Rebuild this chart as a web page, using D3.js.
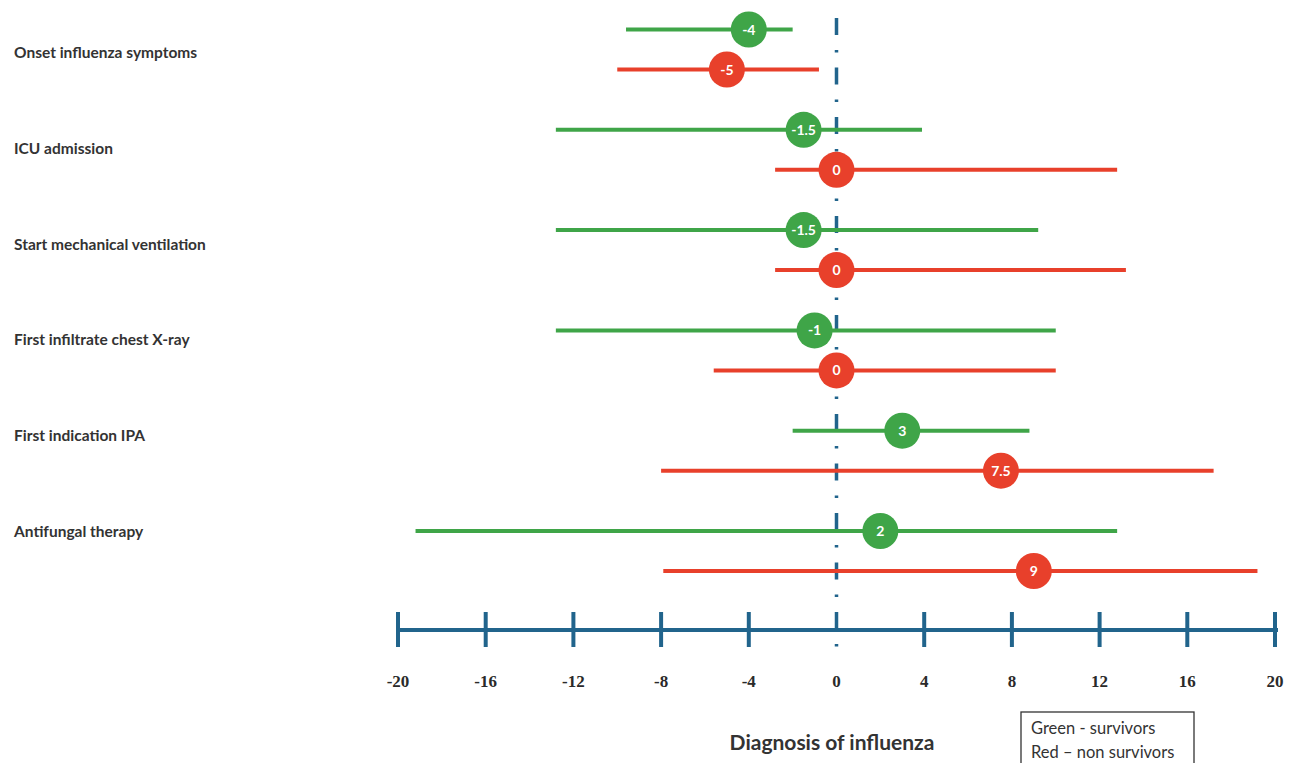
<!DOCTYPE html>
<html>
<head>
<meta charset="utf-8">
<script src="https://cdn.jsdelivr.net/npm/d3@7"></script>
<style>
  html, body { margin: 0; padding: 0; background: #ffffff; }
  svg { display: block; }
</style>
</head>
<body>
<svg id="chart" width="1294" height="763"></svg>
<script>
// ---- Data ----
const categories = [
  "Onset influenza symptoms",
  "ICU admission",
  "Start mechanical ventilation",
  "First infiltrate chest X-ray",
  "First indication IPA",
  "Antifungal therapy"
];
// survivors (green): median, low, high
const survMedian = [-4, -1.5, -1.5, -1, 3, 2];
const survLow    = [-9.6, -12.8, -12.8, -12.8, -2, -19.2];
const survHigh   = [-2, 3.9, 9.2, 10, 8.8, 12.8];
// non survivors (red)
const nonMedian  = [-5, 0, 0, 0, 7.5, 9];
const nonLow     = [-10, -2.8, -2.8, -5.6, -8, -7.9];
const nonHigh    = [-0.8, 12.8, 13.2, 10, 17.2, 19.2];

const xTicks = [-20, -16, -12, -8, -4, 0, 4, 8, 12, 16, 20];
const axisTitle = "Diagnosis of influenza";
const legendLines = ["Green - survivors", "Red \u2013 non survivors"];

// ---- Styles ----
const GREEN = "#3fa548";
const RED = "#e8402b";
const BLUE = "#21648c";

const svg = d3.select("#chart");

const x = d3.scaleLinear().domain([-20, 20]).range([398, 1275]);
const yGroup = d3.scalePoint().domain(categories).range([49.5, 551]);
const yLabel = d3.scalePoint().domain(categories).range([53, 532]);
const offset = 20;

// dashed zero line
svg.append("line")
  .attr("x1", x(0)).attr("x2", x(0))
  .attr("y1", 18).attr("y2", 650)
  .attr("stroke", BLUE)
  .attr("stroke-width", 3.5)
  .attr("stroke-dasharray", "17,15,2.5,15");

// axis line
const axisY = 630;
svg.append("line")
  .attr("x1", x(-20) - 1).attr("x2", x(20) + 3)
  .attr("y1", axisY).attr("y2", axisY)
  .attr("stroke", BLUE).attr("stroke-width", 4);

svg.selectAll(".tick")
  .data(xTicks.filter(d => d !== 0))
  .enter().append("line")
  .attr("class", "tick")
  .attr("x1", d => x(d)).attr("x2", d => x(d))
  .attr("y1", axisY - 18).attr("y2", axisY + 17)
  .attr("stroke", BLUE).attr("stroke-width", 4);

svg.selectAll(".ticklabel")
  .data(xTicks)
  .enter().append("text")
  .attr("class", "ticklabel")
  .attr("x", d => x(d))
  .attr("y", 687)
  .attr("text-anchor", "middle")
  .attr("font-family", "'Liberation Serif', serif")
  .attr("font-weight", "bold")
  .attr("font-size", 17)
  .attr("fill", "#2a2a2a")
  .text(d => d);

// row labels
svg.selectAll(".rowlabel")
  .data(categories)
  .enter().append("text")
  .attr("class", "rowlabel")
  .attr("x", 14)
  .attr("y", d => yLabel(d) + 5)
  .attr("font-family", "Lato, sans-serif")
  .attr("font-weight", "bold")
  .attr("font-size", 15.5)
  .attr("fill", "#333")
  .text(d => d);

// series
const series = [
  { color: GREEN, med: survMedian, lo: survLow, hi: survHigh, dy: -offset },
  { color: RED, med: nonMedian, lo: nonLow, hi: nonHigh, dy: offset }
];

series.forEach(s => {
  const rows = categories.map((c, i) => ({ c, med: s.med[i], lo: s.lo[i], hi: s.hi[i] }));
  const g = svg.append("g");
  g.selectAll("line")
    .data(rows).enter().append("line")
    .attr("x1", d => x(d.lo)).attr("x2", d => x(d.hi))
    .attr("y1", d => yGroup(d.c) + s.dy).attr("y2", d => yGroup(d.c) + s.dy)
    .attr("stroke", s.color).attr("stroke-width", 4);
  g.selectAll("circle")
    .data(rows).enter().append("circle")
    .attr("cx", d => x(d.med)).attr("cy", d => yGroup(d.c) + s.dy)
    .attr("r", 18)
    .attr("fill", s.color);
  g.selectAll("text")
    .data(rows).enter().append("text")
    .attr("x", d => x(d.med)).attr("y", d => yGroup(d.c) + s.dy + 5)
    .attr("text-anchor", "middle")
    .attr("font-family", "Lato, sans-serif")
    .attr("font-weight", "bold")
    .attr("font-size", 14)
    .attr("fill", "#ffffff")
    .text(d => d.med);
});

// axis title
svg.append("text")
  .attr("x", 832).attr("y", 750)
  .attr("text-anchor", "middle")
  .attr("font-family", "Lato, sans-serif")
  .attr("font-weight", "bold")
  .attr("font-size", 21)
  .attr("fill", "#333")
  .text(axisTitle);

// legend
svg.append("rect")
  .attr("x", 1021).attr("y", 712)
  .attr("width", 173).attr("height", 60)
  .attr("fill", "#fff")
  .attr("stroke", "#333").attr("stroke-width", 1.3);
svg.selectAll(".legtext")
  .data(legendLines)
  .enter().append("text")
  .attr("class", "legtext")
  .attr("x", 1031)
  .attr("y", (d, i) => 734 + i * 24)
  .attr("font-family", "Lato, sans-serif")
  .attr("font-size", 16.5)
  .attr("fill", "#333")
  .text(d => d);
</script>
</body>
</html>
